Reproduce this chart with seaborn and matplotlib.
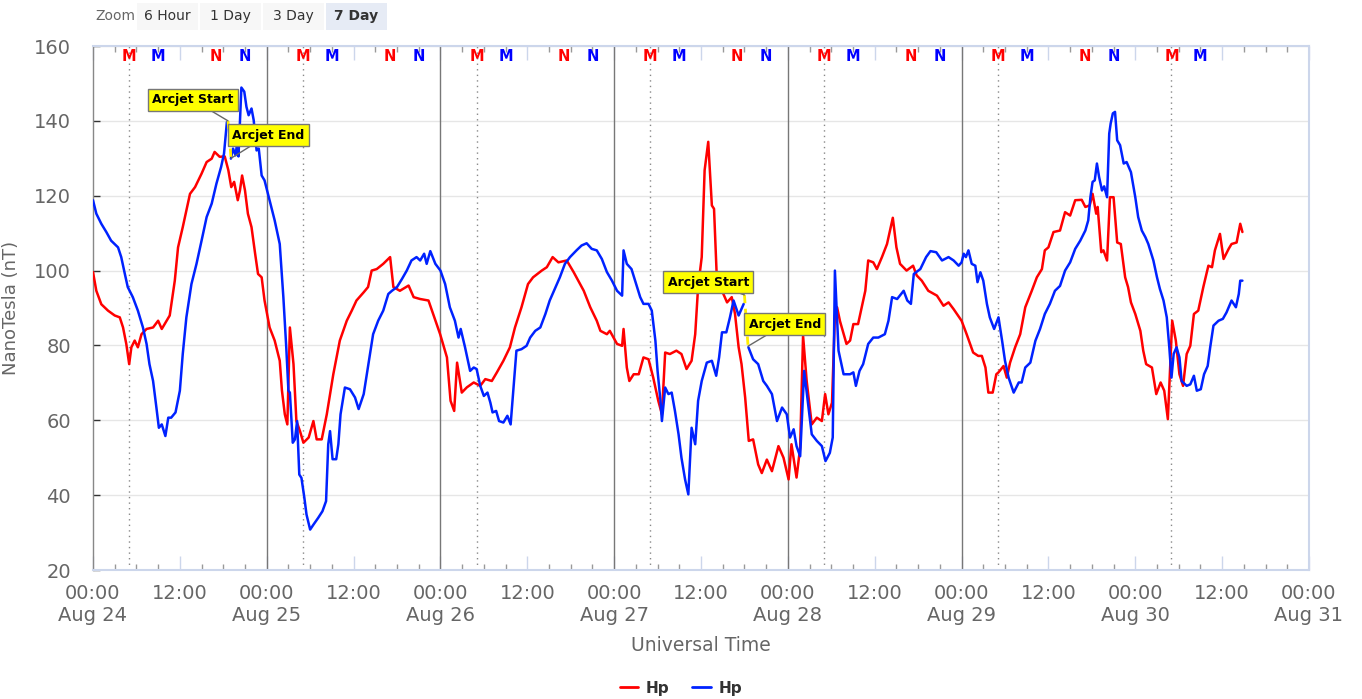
import numpy as np
import pandas as pd
import matplotlib
matplotlib.use("Agg")
import matplotlib.pyplot as plt
from matplotlib.lines import Line2D
from matplotlib.patches import Rectangle
from matplotlib.ticker import MultipleLocator
import seaborn as sns

# hours since Aug 24 00:00 UT, values in nT
red_hours = [0, 0.46, 1.15, 2.07, 3.0, 3.7, 4.15, 4.6, 5.0, 5.3, 5.76, 6.2, 6.7, 7.4, 8.3, 9.0, 9.5, 10.6,
             11.3, 11.75, 12.4, 12.9, 13.4, 14.1, 15.0, 15.7, 16.4, 16.8, 17.5, 18.2, 18.7, 19.1, 19.5, 20.0,
             20.3, 20.6, 21.0, 21.4, 21.9, 22.4, 22.8, 23.3, 23.7, 24.4, 25.1, 25.8, 26.1, 26.5, 26.85, 27.2,
             27.7, 28.1, 28.6, 29.07, 29.8, 30.45, 30.9, 31.6, 32.3, 33.2, 34.1, 35.06, 35.75, 36.4, 37.4,
             38.0, 38.5, 39.2, 40.1, 41.05, 41.5, 42.4, 43.6, 44.3, 45.2, 46.35, 47.0, 47.96, 48.9, 49.4,
             49.9, 50.3, 50.95, 51.65, 52.6, 53.5, 54.2, 55.1, 55.8, 56.7, 57.6, 58.3, 59.2, 60.1, 60.8,
             62.0, 62.7, 63.5, 64.3, 65.45, 66.4, 67.8, 68.7, 69.6, 70.1, 71.0, 71.4, 72.4, 73.1, 73.3,
             73.75, 74.1, 74.7, 75.4, 76.05, 76.75, 77.4, 78.1, 78.6, 79.05, 79.7, 80.6, 81.3, 82.0, 82.7,
             83.2, 83.6, 84.1, 84.5, 85.0, 85.5, 85.8, 86.2, 86.9, 87.6, 88.25, 88.7, 89.2, 89.6, 90.1,
             90.6, 91.2, 91.9, 92.4, 93.1, 93.8, 94.7, 95.4, 96.1, 96.5, 97.2, 97.7, 98.1, 98.6, 99.3,
             100.0, 100.7, 101.15, 101.6, 102.1, 102.5, 102.8, 103.2, 104.1, 104.6, 105.05, 105.7, 106.7,
             107.1, 107.8, 108.3, 109.0, 109.7, 110.5, 111.0, 111.5, 112.4, 113.3, 113.8, 114.5, 115.4,
             116.6, 117.5, 118.2, 118.9, 120.0, 120.7, 121.6, 122.3, 122.8, 123.3, 123.7, 124.3, 124.8,
             125.1, 125.8, 126.25, 126.7, 127.4, 128.1, 128.8, 129.7, 130.4, 131.1, 131.5, 132.0, 132.7,
             133.6, 134.3, 135.0, 135.7, 136.6, 137.1, 137.7, 138.1, 138.6, 138.8, 139.3, 139.6, 140.1,
             140.5, 141.0, 141.5, 142.0, 142.6, 143.0, 143.4, 144.0, 144.7, 145.1, 145.5, 146.3, 146.9,
             147.5, 148.0, 148.5, 148.8, 149.1, 149.6, 150.1, 150.6, 151.1, 151.6, 152.1, 152.7, 153.4,
             154.1, 154.6, 155.0, 155.7, 156.2, 156.9, 157.3, 158.0, 158.5, 158.8]
red_nt = [99.6, 94.6, 91, 89.3, 88, 87.5, 84.8, 80.4, 75, 79.5, 81.3, 79.5, 83, 84.4, 84.8, 86.6, 84.4, 88,
          97.3, 106.2, 111.6, 116, 120.5, 122.3, 125.9, 129, 129.9, 131.7, 130.4, 130.5, 126.8, 122.3, 123.7,
          118.8, 121.4, 125.4, 121.4, 115.2, 111.6, 104.5, 99.1, 98.2, 92, 84.8, 81.3, 75.9, 68, 61.6, 58.9,
          84.8, 75, 59.8, 57.1, 54, 55.4, 59.8, 54.9, 54.9, 61.6, 72.3, 81.3, 86.6, 89.3, 92, 94.2, 95.6,
          100, 100.4, 101.8, 103.6, 95.6, 94.6, 96, 92.9, 92.4, 92, 88.4, 83, 76.8, 65.2, 62.5, 75.4, 67.4,
          68.8, 70.1, 69.2, 71, 70.5, 72.8, 75.9, 79.5, 84.8, 90.2, 96.4, 98.2, 100, 100.9, 103.6, 102.2,
          102.7, 99.6, 94.6, 90.2, 86.6, 83.9, 83, 83.9, 80.4, 79.9, 84.4, 74.1, 70.5, 72.3, 72.3, 76.8,
          76.3, 71.4, 65.2, 61.6, 78.1, 77.7, 78.6, 77.7, 73.7, 75.9, 83, 95.6, 103.6, 126.8, 134.4, 117.4,
          116.5, 97.3, 94.6, 91.5, 92.9, 88.4, 79.5, 75, 66.1, 54.5, 54.9, 48.2, 45.9, 49.5, 46.4, 53.1, 50,
          44.2, 53.6, 44.7, 52.7, 82.6, 70.5, 58.9, 60.7, 59.8, 67, 61.6, 64.7, 88, 90.2, 86.5, 80.4, 81.3,
          85.7, 85.7, 94.6, 102.7, 102.2, 100.4, 103.6, 107.1, 114.1, 106.2, 101.8, 100, 101.3, 98.7, 97.3,
          94.6, 93.3, 90.6, 91.5, 89.7, 86.6, 83, 78.1, 77.2, 77.2, 74.1, 67.4, 67.4, 72.3, 72.8, 74.5, 71.4,
          75.4, 79.5, 83, 90.2, 94.6, 98.2, 100.4, 105.4, 106.2, 110.3, 110.7, 115.6, 114.7, 118.8, 118.9,
          117, 117.4, 120.5, 115.2, 117, 104.9, 105.4, 102.7, 119.6, 119.6, 107.5, 107.1, 98.2, 95.6, 91.5,
          88.4, 83.9, 78.6, 75, 74.1, 67, 70.1, 67.9, 60.3, 73.2, 86.6, 81.3, 72.3, 69.2, 77.7, 79.9, 88.4,
          89.3, 95.6, 101.3, 100.9, 105.4, 109.8, 103.1, 105.8, 107.1, 107.5, 112.5, 110.3]

# blue series has gaps during the two arcjet periods (segment ids)
blue_hours = [0, 0.46, 1.15, 1.84, 2.5, 3.46, 3.9, 4.4, 4.8, 5.5, 6.2, 6.9, 7.4, 7.8, 8.3, 8.76, 9.1, 9.5,
              10.0, 10.4, 10.8, 11.4, 12.0, 12.4, 12.9, 13.6, 14.3, 15.0, 15.7, 16.4, 17.05, 17.7, 18.1, 18.5,
              19.05, 19.35, 19.7, 19.9, 20.1, 20.5, 20.9, 21.2, 21.5, 21.9, 22.2, 22.6, 22.9, 23.3, 23.7,
              24.4, 25.1, 25.8, 26.3, 26.7, 27.0, 27.2, 27.6, 27.9, 28.2, 28.5, 28.8, 29.2, 29.5, 30.0,
              30.45, 31.1, 31.7, 32.2, 32.5, 32.75, 33.1, 33.6, 33.9, 34.2, 34.8, 35.5, 36.2, 36.7, 37.4,
              38.05, 38.7, 39.4, 40.1, 40.8, 41.3, 42.0, 42.7, 43.35, 44.0, 44.7, 45.2, 45.75, 46.1, 46.6,
              47.3, 48.0, 48.65, 49.3, 50.0, 50.5, 50.8, 51.4, 52.1, 52.6, 53.0, 53.5, 54.0, 54.5, 54.9,
              55.2, 55.7, 56.1, 56.7, 57.25, 57.7, 58.1, 58.5, 59.2, 59.9, 60.4, 61.1, 61.8, 62.5, 63.1,
              63.8, 64.5, 65.2, 65.9, 66.8, 67.5, 68.2, 68.9, 69.6, 70.3, 71.0, 71.7, 72.4, 73.1, 73.3,
              73.75, 74.4, 74.9, 75.6, 76.05, 76.75, 77.2, 77.7, 78.0, 78.4, 78.6, 79.05, 79.5, 79.95, 80.4,
              80.9, 81.3, 81.8, 82.25, 82.7, 83.2, 83.6, 84.1, 84.8, 85.5, 86.1, 86.5, 86.9, 87.5, 88.0,
              88.5, 89.2, 89.9,
              90.55, 91.2, 91.9, 92.6, 93.1, 93.8, 94.5, 95.2, 95.85, 96.3, 96.8, 97.2, 97.7, 98.25,
              98.85, 99.3, 100.0, 100.7, 101.2, 101.8, 102.2, 102.5, 103.0, 103.7, 104.6, 105.05, 105.4,
              105.9, 106.4, 107.1, 107.8, 108.5, 109.4, 109.9, 110.4, 111.1, 112.0, 112.5, 113.0, 113.4,
              114.3, 115.1, 115.7, 116.5, 117.3, 118.2, 118.9, 119.6, 120.0, 120.3, 120.6, 120.95, 121.4,
              121.9, 122.2, 122.6, 123.0, 123.5, 123.9, 124.5, 125.1, 125.6, 126.0, 126.5, 127.2, 127.9,
              128.3, 128.8, 129.5, 130.2, 130.84, 131.5, 132.2, 132.9, 133.6, 134.3, 135.0, 135.7, 136.4,
              137.1, 137.5, 137.8, 138.1, 138.4, 138.7, 139.0, 139.4, 139.7, 140.1, 140.4, 140.6, 140.9,
              141.2, 141.5, 141.9, 142.4, 142.8, 143.4, 144.0, 144.4, 144.9, 145.4, 145.8, 146.5, 147.0,
              147.4, 147.9, 148.35, 148.7, 149.0, 149.3, 149.7, 150.1, 150.4, 151.1, 151.6, 152.1, 152.5,
              153.05, 153.5, 154.0, 154.35, 154.8, 155.5, 156.1, 156.6, 157.3, 157.9, 158.3, 158.5, 158.8]
blue_nt = [118.8, 115.2, 112.5, 110.3, 108, 106.2, 103.6, 99.1, 95.6, 92.9, 89.3, 84.8, 80.4, 75, 70.5, 63.4,
           58, 58.9, 55.8, 60.7, 60.7, 62.1, 67.9, 77.7, 87.5, 96.4, 101.8, 108, 114.3, 117.9, 123.2, 127.7,
           131.25, 139.7,
           129.9, 132.6, 130.8, 133.9, 130.5, 148.9, 147.8, 143.75, 141.5, 143.3, 140.2, 132.1, 132.6, 125.4,
           124.1, 118.75, 113.4, 107.1, 92.9, 79.5, 67.9, 67.4, 54, 54.9, 59.8, 45.5, 44.6, 39.3, 34.8, 30.8,
           32.1, 33.9, 35.7, 38.4, 53.6, 57.1, 49.6, 49.6, 53.6, 61.6, 68.75, 68.3, 66.1, 63, 67, 75, 83,
           86.6, 89.3, 93.75, 94.6, 95.6, 97.8, 100, 102.7, 103.6, 102.7, 104.5, 101.8, 105.2, 101.8, 100,
           96.4, 90.2, 86.6, 82.1, 84.4, 79.5, 73.2, 74.1, 73.7, 69.2, 66.5, 67.4, 64.7, 62.1, 62.5, 59.8,
           59.4, 61.2, 58.9, 68.75, 78.6, 79, 79.9, 82.1, 83.9, 84.8, 88.4, 92, 95.1, 98.2, 101.8, 103.6,
           105.4, 106.7, 107.3, 105.8, 105.4, 103.1, 99.6, 97.3, 94.6, 93.3, 105.4, 101.8, 100.4, 97.3, 92.9,
           91.1, 91.1, 89.3, 81.25, 73.2, 65.2, 59.8, 68.75, 67, 67.4, 62.5, 56.25, 50, 44.2, 40.2, 58, 53.6,
           65.2, 70.5, 75.4, 75.9, 71.9, 76.8, 83.5, 83.5, 87.5, 92, 88, 91.1,
           79.5, 76.3, 75, 70.5, 69.2, 67, 59.8, 63.4, 61.6, 55.4, 57.6, 53.1, 50.4, 73.2, 63.4, 56.25, 54.5,
           53.1, 49.1, 51.3, 55.4, 100, 78.6, 72.3, 72.3, 72.8, 69.2, 73.2, 75, 80.4, 82.1, 82.1, 83, 86.6,
           92.9, 92.4, 94.6, 92, 91.1, 99.1, 100.4, 103.6, 105.2, 104.9, 102.7, 103.6, 102.7, 101.3, 102.2,
           104.5, 103.6, 105.4, 101.8, 101.3, 96.9, 99.55, 97.3, 91.1, 87.5, 84.4, 87.5, 81.25, 75.9, 71.4,
           67.4, 70.1, 70.1, 74.1, 75.4, 81.25, 84.4, 88.4, 91.1, 94.6, 95.9, 100, 102.2, 105.8, 108, 110.7,
           113.4, 119.6, 123.7, 124.1, 128.6, 125, 121.4, 122.5, 119.6, 136.6, 139.3, 142, 142.4, 134.8,
           133.5, 128.6, 129, 126.3, 119.6, 114.3, 110.7, 108.9, 107.1, 102.7, 98.2, 95.1, 92, 87.5, 79.5,
           71.4, 77.7, 79.5, 76.8, 70.5, 69.2, 69.6, 71.9, 67.9, 68.3, 72.3, 74.5, 79.5, 85.3, 86.6, 87.1,
           88.8, 92, 90.2, 93.75, 97.3, 97.3]
blue_segment_ends = [18.5, 89.9]  # last hour before each arcjet gap

arcjet_start_hours = [18.65, 90.0]
arcjet_start_nt = [140.0, 93.5]
arcjet_end_hours = [19.07, 90.5]
arcjet_end_nt = [130.0, 79.8]
arcjet_label_start_pos = [(13.8, 145.6), (85.0, 96.9)]
arcjet_label_end_pos = [(24.2, 136.2), (95.6, 85.7)]

marker_hours = [5, 29, 53, 77, 101, 125, 149,
                9, 33, 57, 81, 105, 129, 153,
                17, 41, 65, 89, 113, 137,
                21, 45, 69, 93, 117, 141]
marker_text = ["M"] * 14 + ["N"] * 12
marker_color = ["red"] * 7 + ["blue"] * 7 + ["red"] * 6 + ["blue"] * 6
dotted_hours = [5, 29, 53, 77, 101, 125, 149]
day_line_hours = [24, 48, 72, 96, 120]

tick_hours = [0, 12, 24, 36, 48, 60, 72, 84, 96, 108, 120, 132, 144, 156, 168]
tick_labels = ["00:00\nAug 24", "12:00", "00:00\nAug 25", "12:00", "00:00\nAug 26", "12:00",
               "00:00\nAug 27", "12:00", "00:00\nAug 28", "12:00", "00:00\nAug 29", "12:00",
               "00:00\nAug 30", "12:00", "00:00\nAug 31"]

zoom_buttons = ["6 Hour", "1 Day", "3 Day", "7 Day"]

# long table for seaborn
red_df = pd.DataFrame({"hours": red_hours, "nt": red_nt, "series": "red", "seg": "r0"})
blue_df = pd.DataFrame({"hours": blue_hours, "nt": blue_nt, "series": "blue"})
blue_df["seg"] = ["b" + str(int(np.searchsorted(blue_segment_ends, h, side="left"))) for h in blue_df.hours]
df = pd.concat([red_df, blue_df], ignore_index=True)

sns.set_theme(style="white")
plt.rcParams["font.family"] = ["DejaVu Sans"]

fig = plt.figure(figsize=(13.62, 6.99), dpi=100)
ax = fig.add_axes([93 / 1362, 1 - 570 / 699, (1309 - 93) / 1362, (570 - 46) / 699])

grid_c = "#e6e6e6"
axis_c = "#ccd6eb"
text_c = "#666666"

for v in range(40, 161, 20):
    ax.axhline(v, color=grid_c, lw=1, zorder=0)
for h in day_line_hours:
    ax.axvline(h, color="#777777", lw=1, zorder=1)
for h in dotted_hours:
    ax.axvline(h, color="#888888", lw=1, ls=(0, (1, 3)), zorder=1)

sns.lineplot(data=df, x="hours", y="nt", hue="series", units="seg", estimator=None, sort=False,
             palette={"red": "#ff0000", "blue": "#0022ff"}, lw=1.8, legend=False, ax=ax, zorder=3)

# arcjet dashed segments and labels
for i in range(2):
    ax.plot([arcjet_start_hours[i], arcjet_end_hours[i]], [arcjet_start_nt[i], arcjet_end_nt[i]],
            color="#ffee00", lw=2, ls=(0, (3, 2)), zorder=4)
    for txt, pos, pt in [("Arcjet Start", arcjet_label_start_pos[i], (arcjet_start_hours[i], arcjet_start_nt[i])),
                         ("Arcjet End", arcjet_label_end_pos[i], (arcjet_end_hours[i], arcjet_end_nt[i]))]:
        ax.annotate(txt, xy=pt, xytext=pos, ha="center", va="center", fontsize=9, fontweight="bold",
                    color="black", zorder=6,
                    bbox=dict(boxstyle="square,pad=0.35", fc="#ffff00", ec="#777777", lw=1),
                    arrowprops=dict(arrowstyle="-", color="#666666", lw=1, shrinkA=0, shrinkB=0))

for h, t, c in zip(marker_hours, marker_text, marker_color):
    ax.text(h, 157.2, t, color=c, fontsize=10.5, fontweight="bold", ha="center", va="center", zorder=5)

ax.set_xlim(0, 168)
ax.set_ylim(20, 160)
ax.set_xticks(tick_hours)
ax.set_xticklabels(tick_labels)
ax.xaxis.set_minor_locator(MultipleLocator(3))
ax.set_yticks(range(20, 161, 20))
ax.tick_params(axis="x", which="major", direction="in", length=10, width=1, color=axis_c,
               top=True, bottom=True, labelsize=14, labelcolor=text_c, pad=10)
ax.tick_params(axis="x", which="minor", direction="in", length=4, width=1, color="#999999",
               top=True, bottom=True)
ax.tick_params(axis="y", direction="in", length=5, width=1, color="#333333", left=True,
               labelsize=14, labelcolor=text_c, pad=16)

for s in ["top", "bottom", "right"]:
    ax.spines[s].set_color(axis_c)
    ax.spines[s].set_linewidth(1.5)
ax.spines["left"].set_color("#888888")
ax.spines["left"].set_linewidth(1)

ax.set_xlabel("Universal Time", fontsize=13.5, color=text_c, labelpad=8)
ax.set_ylabel("NanoTesla (nT)", fontsize=13, color=text_c, labelpad=10)

handles = [Line2D([], [], color="#ff0000", lw=2), Line2D([], [], color="#0022ff", lw=2)]
leg = fig.legend(handles, ["Hp", "Hp"], loc="center", bbox_to_anchor=(0.5, 1 - 688 / 699), ncol=2,
                 frameon=False, handlelength=1.2, columnspacing=1.5, handletextpad=0.5,
                 prop={"weight": "bold", "size": 11})
for t in leg.get_texts():
    t.set_color("#333333")

# zoom selector
fig.text(95 / 1362, 1 - 16 / 699, "Zoom", fontsize=10, color=text_c, va="center", ha="left")
btn_left = [137, 200, 263, 326]
for lbl, x0 in zip(zoom_buttons, btn_left):
    sel = lbl == "7 Day"
    fig.add_artist(Rectangle((x0 / 1362, 1 - 30 / 699), 61 / 1362, 27 / 699, transform=fig.transFigure,
                             fc="#e6ebf5" if sel else "#f7f7f7", ec="none"))
    fig.text((x0 + 30.5) / 1362, 1 - 16 / 699, lbl, fontsize=10, color="#333333", ha="center", va="center",
             fontweight="bold" if sel else "normal")

fig.savefig("out.png", dpi=100)
